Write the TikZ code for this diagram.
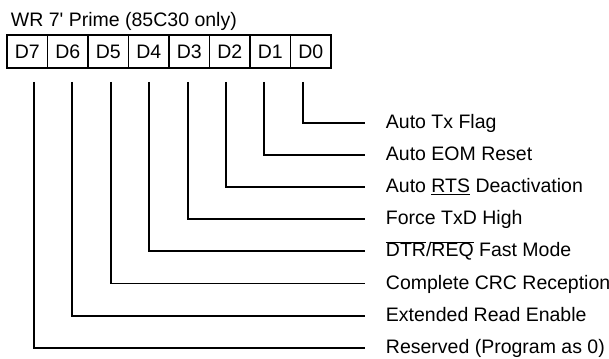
\documentclass[tikz,border=0pt]{standalone}
\usepackage{fontspec}
\setmainfont{Liberation Sans}
\begin{document}
\begin{tikzpicture}[x=1pt,y=-1pt,line width=1.9pt,
  every node/.style={font=\fontsize{19.5}{23}\selectfont},
  cell/.style={draw,line width=1.9pt,minimum width=40.5pt,minimum height=33pt,inner sep=0pt,anchor=center},
  lbl/.style={anchor=west,inner sep=0pt,text height=11pt,text depth=0pt},
  conn/.style={line width=1.9pt}]
\useasboundingbox (0,0) rectangle (609,358);
\node[anchor=base west,inner sep=0pt] (title) at (10,27) {WR 7\textquotesingle{} Prime (85C30 only)};
\foreach \i/\n in {0/7,1/6,2/5,3/4,4/3,5/2,6/1,7/0}{
  \node[cell] (c\n) at ({7+40.5*\i+20.25},51.5) {D\n};
}
\foreach \i/\n in {0/7,1/6,2/5,3/4,4/3,5/2,6/1,7/0}{
  \coordinate (t\n) at ({34+38.4*\i},82);
}
\node[lbl] (l0) at (385,123) {Auto Tx Flag};
\node[lbl] (l1) at (385,155.1) {Auto EOM Reset};
\node[lbl] (l2) at (385,187.2) {Auto \underline{RTS} Deactivation};
\node[lbl] (l3) at (385,219.3) {Force TxD High};
\node[lbl] (l4) at (385,251.4) {$\overline{\mbox{DTR}}$/$\overline{\mbox{REQ}}$ Fast Mode};
\node[lbl] (l5) at (385,283.5) {Complete CRC Reception};
\node[lbl] (l6) at (385,315.6) {Extended Read Enable};
\node[lbl] (l7) at (385,347.7) {Reserved (Program as 0)};
\foreach \n in {0,...,7}{
  \draw[conn] (t\n) |- ([xshift=-20pt]l\n.west);
}
\end{tikzpicture}
\end{document}
